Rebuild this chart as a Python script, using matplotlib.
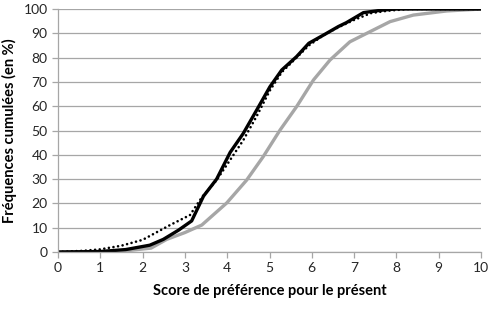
import numpy as np
import matplotlib.pyplot as plt

plt.rcParams['font.family'] = ['Lato', 'DejaVu Sans']

# courbe noire pleine
x_noir = [0, 1.0, 1.6, 2.17, 2.49, 2.85, 3.16, 3.44, 3.75, 4.07, 4.38, 4.7, 5.01, 5.29, 5.64, 5.93, 6.3, 6.63, 6.82, 7.22, 7.69, 8.0, 10]
y_noir = [0, 0.2, 1.0, 2.8, 5.2, 9.0, 12.8, 23, 30, 41, 48.8, 58.5, 68, 74.9, 80.4, 85.9, 89.5, 92.8, 94.4, 98.5, 99.6, 100, 100]

# courbe pointillée
x_pt = [0, 0.6, 1.0, 1.5, 2.0, 2.65, 3.12, 3.4, 3.75, 4.07, 4.38, 4.7, 5.01, 5.29, 5.64, 5.93, 6.3, 6.63, 7.0, 7.4, 7.8, 8.3, 10]
y_pt = [0, 0.5, 1.1, 2.6, 5.0, 11.1, 15.2, 22.5, 29.6, 37.9, 46, 56, 66.5, 74, 80, 85, 89.5, 92.5, 95.5, 98.3, 99.3, 100, 100]

# courbe grise
x_gris = [0, 1.0, 1.6, 2.2, 2.57, 3.0, 3.4, 3.99, 4.46, 4.85, 5.25, 5.64, 6.04, 6.43, 6.9, 7.3, 7.85, 8.4, 9.19, 10]
y_gris = [0, 0.1, 0.5, 1.6, 5.2, 8.0, 11.1, 20.2, 29.6, 39.2, 50.2, 59.8, 70.8, 79, 86.5, 90, 94.8, 97.5, 99.2, 100]

fig = plt.figure(figsize=(4.89, 3.2), dpi=100)
ax = fig.add_axes([58/489, 1 - 252/320, (481-58)/489, (252-9)/320])

ax.plot(x_gris, y_gris, color="#a6a6a6", lw=2.4, solid_capstyle='round')
ax.plot(x_noir, y_noir, color="black", lw=2.4)
ax.plot(x_pt, y_pt, color="black", lw=1.9, linestyle=(0, (0.01, 1.75)), dash_capstyle='round')

ax.set_xlim(0, 10)
ax.set_ylim(0, 100)
ax.set_xticks(range(0, 11))
ax.set_yticks(range(0, 101, 10))
ax.yaxis.grid(True, color="#a6a6a6", lw=0.9)
ax.set_axisbelow(True)
for s in ['top', 'right']:
    ax.spines[s].set_visible(False)
for s in ['left', 'bottom']:
    ax.spines[s].set_color("#a6a6a6")
    ax.spines[s].set_linewidth(0.9)
ax.tick_params(axis='both', colors="#a6a6a6", labelcolor="#262626", labelsize=10, length=4, width=0.9)

ax.set_xlabel("Score de préférence pour le présent", fontsize=10.5, fontweight='bold', labelpad=7)
ax.set_ylabel("Fréquences cumulées (en %)", fontsize=10.5, fontweight='bold', labelpad=5)

plt.savefig("out.png", dpi=100)
